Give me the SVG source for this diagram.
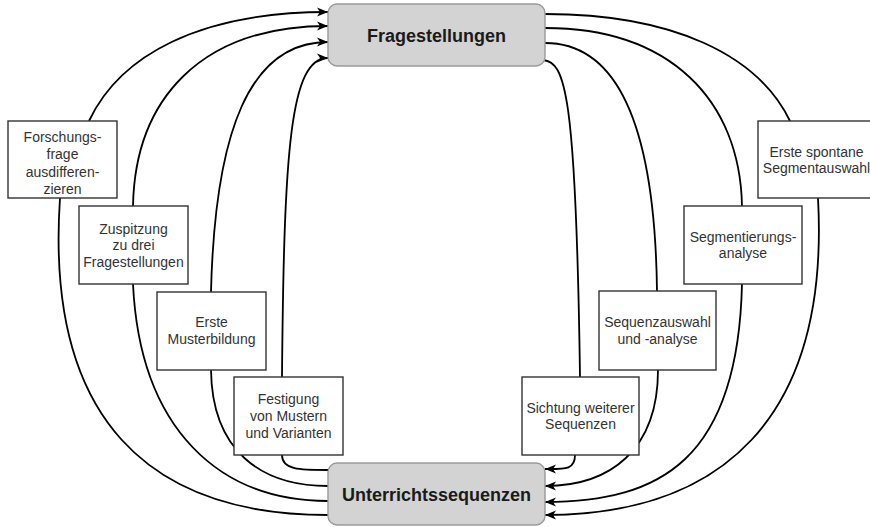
<svg xmlns="http://www.w3.org/2000/svg" width="870" height="527" viewBox="0 0 870 527">
<defs>
<style>
.box{fill:#ffffff;stroke:#333333;stroke-width:1.4}
.main{fill:#d3d3d3;stroke:#9a9a9a;stroke-width:1.4}
.t{font-family:"Liberation Sans",Arial,Helvetica,sans-serif;font-size:14px;fill:#333333;text-anchor:middle}
.tm{font-family:"Liberation Sans",Arial,Helvetica,sans-serif;font-size:18px;font-weight:bold;fill:#1a1a1a;text-anchor:middle}
.c{fill:none;stroke:#000000;stroke-width:1.8;stroke-linecap:butt}
.a{marker-end:url(#arr)}
</style>
<marker id="arr" markerUnits="userSpaceOnUse" markerWidth="12" markerHeight="10" viewBox="0 0 12 10" refX="11" refY="5" orient="auto">
<path d="M0,0.5 L11,5 L0,9.5 L3,5 Z" fill="#000000"/>
</marker>
</defs>
<g id="connectors">
<path class="c a" d="M89,121 C120,55 200,12 328,12"/>
<path class="c a" d="M133,206 C135,100 200,26 328,26"/>
<path class="c a" d="M211,292 C215,130 250,42 328,42"/>
<path class="c a" d="M282,377 C284,150 290,58 328,58"/>
<path class="c" d="M60,198 C45,420 150,515 328,515"/>
<path class="c" d="M133,284 C140,430 220,501 328,501"/>
<path class="c" d="M211,370 C212,450 260,486 328,486"/>
<path class="c" d="M282,455 C282,470 300,470 328,470"/>
<path class="c" d="M545,14 C673,14 758,55 790,121"/>
<path class="c" d="M545,28 C670,28 740,100 742,206"/>
<path class="c" d="M545,43 C620,43 655,130 657,291"/>
<path class="c" d="M543,60 C565,62 576,90 580,377"/>
<path class="c a" d="M575,455 C575,470 565,469 545,469"/>
<path class="c a" d="M658,370 C658,450 610,486 545,486"/>
<path class="c a" d="M742,284 C738,460 660,502 545,502"/>
<path class="c a" d="M818,198 C830,420 720,515 545,515"/>
</g>
<g id="fragestellungen">
<rect class="main" x="328" y="4" width="217" height="62" rx="9"/>
<text class="tm" x="436.5" y="41.5">Fragestellungen</text>
</g>
<g id="unterrichtssequenzen">
<rect class="main" x="328" y="463" width="217" height="62" rx="9"/>
<text class="tm" x="436.5" y="500.5">Unterrichtssequenzen</text>
</g>
<g id="forschungsfrage">
<rect class="box" x="8" y="121" width="109" height="77"/>
<text class="t" x="62.5" y="141.5">Forschungs-</text>
<text class="t" x="62.5" y="159">frage</text>
<text class="t" x="62.5" y="176.5">ausdifferen-</text>
<text class="t" x="62.5" y="194">zieren</text>
</g>
<g id="zuspitzung">
<rect class="box" x="79" y="206" width="109" height="78"/>
<text class="t" x="133.5" y="233.5">Zuspitzung</text>
<text class="t" x="133.5" y="250">zu drei</text>
<text class="t" x="133.5" y="266.5">Fragestellungen</text>
</g>
<g id="musterbildung">
<rect class="box" x="157" y="292" width="109" height="78"/>
<text class="t" x="211.5" y="327">Erste</text>
<text class="t" x="211.5" y="343.5">Musterbildung</text>
</g>
<g id="festigung">
<rect class="box" x="234" y="377" width="109" height="78"/>
<text class="t" x="288.5" y="404.3">Festigung</text>
<text class="t" x="288.5" y="421">von Mustern</text>
<text class="t" x="288.5" y="437.7">und Varianten</text>
</g>
<g id="segmentauswahl">
<rect class="box" x="758" y="121" width="117" height="77"/>
<text class="t" x="816.5" y="156.5">Erste spontane</text>
<text class="t" x="816.5" y="173">Segmentauswahl</text>
</g>
<g id="segmentierung">
<rect class="box" x="684" y="206" width="118" height="78"/>
<text class="t" x="743" y="241.5">Segmentierungs-</text>
<text class="t" x="743" y="258">analyse</text>
</g>
<g id="sequenzauswahl">
<rect class="box" x="599" y="291" width="117" height="79"/>
<text class="t" x="657.5" y="327">Sequenzauswahl</text>
<text class="t" x="657.5" y="343.5">und -analyse</text>
</g>
<g id="sichtung">
<rect class="box" x="522" y="377" width="117" height="78"/>
<text class="t" x="580.5" y="412.7">Sichtung weiterer</text>
<text class="t" x="580.5" y="429.3">Sequenzen</text>
</g>
</svg>
